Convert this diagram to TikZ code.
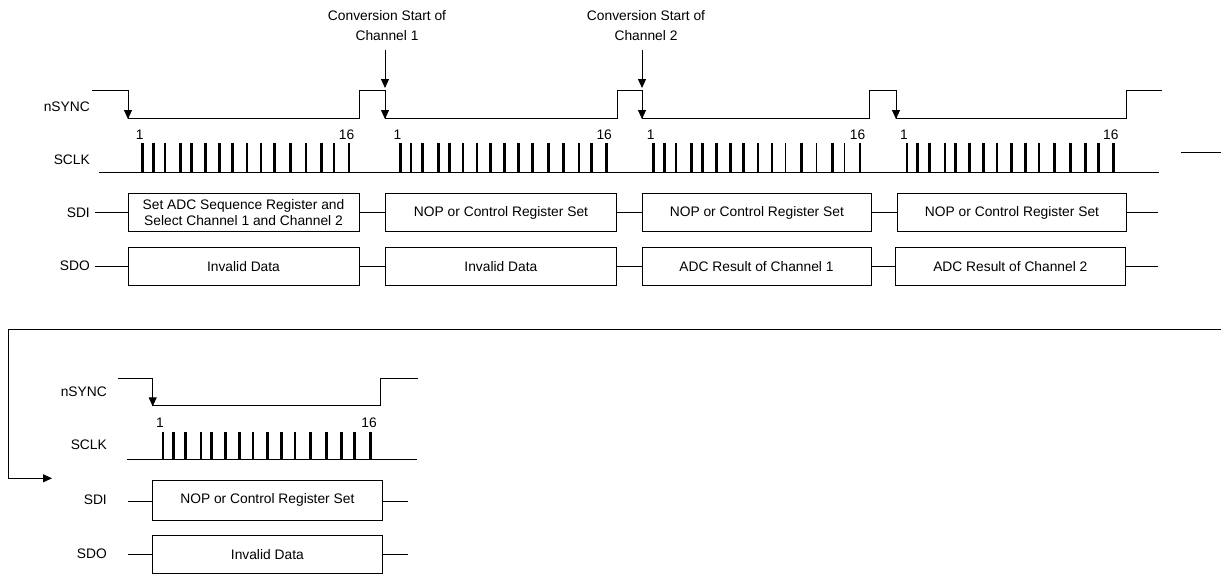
\documentclass[tikz,border=0pt]{standalone}
\usepackage{fontspec}
\setmainfont{Liberation Sans}
\usetikzlibrary{arrows.meta}
\begin{document}
\begin{tikzpicture}[x=1pt,y=-1pt,
  wire/.style={line width=0.9pt},
  pulse/.style={line width=2.7pt},
  thinpulse/.style={line width=1.1pt},
  box/.style={draw,line width=0.9pt,inner sep=0pt,align=center},
  sig/.style={anchor=east,inner sep=0pt},
  num/.style={inner sep=0pt},
  tip/.style={-{Triangle[length=9pt,width=8pt]}},
  every node/.style={font=\fontsize{13.8}{16.5}\selectfont}]
\useasboundingbox (0,0) rectangle (1221,574);

% ---------------- top part ----------------
% signal names
\node[sig] (nsyncA) at (90,107) {nSYNC};
\node[sig] (sclkA) at (90,160) {SCLK};
\node[sig] (sdiA) at (90,213) {SDI};
\node[sig] (sdoA) at (90,266) {SDO};

% conversion start annotations
\node[align=center,inner sep=0pt,font=\fontsize{13.8}{20}\selectfont] (conv1) at (387,26) {Conversion Start of\\Channel 1};
\node[align=center,inner sep=0pt,font=\fontsize{13.8}{20}\selectfont] (conv2) at (646,26) {Conversion Start of\\Channel 2};
\coordinate (c1end) at (385,88);
\coordinate (c2end) at (642,88);
\draw[wire,tip] (385,50) -- (c1end);
\draw[wire,tip] (642,50) -- (c2end);

% nSYNC waveform
\draw[wire] (92,90) -- (128,90) -- (128,118) -- (359,118) -- (359,90) -- (385,90) -- (385,118)
  -- (617,118) -- (617,90) -- (642,90) -- (642,118) -- (869,118) -- (869,90) -- (896,90) -- (896,118)
  -- (1126,118) -- (1126,90) -- (1162,90);
\foreach \x in {128,385,642,896} \draw[wire,tip] (\x,100) -- (\x,119);

% SCLK
\draw[wire] (99,172.5) -- (1159,172.5);
\draw[wire] (1181,152) -- (1221,152);
\foreach \s in {142.7,400.4,653.7,907}{
  \foreach \o in {0,10.5,22.3,38,48.8,62.5,76.5,90,104.2,118.2,147.8,178.7,206.3}
    \draw[pulse] (\s+\o,172.5) -- (\s+\o,143);
  \node[num] at (\s-3,135) {1};
  \node[num] at (\s+203.8,135) {16};
}
\foreach \s in {142.7,400.4,907}{
  \foreach \o in {132,163.2,191.2}
    \draw[pulse] (\s+\o,172.5) -- (\s+\o,143);
}
\foreach \o in {132,163.2,191.2}
  \draw[thinpulse] (653.7+\o,172.5) -- (653.7+\o,143);

% SDI row
\node[box,minimum width=231pt,minimum height=38.4pt] (sdi1) at (243.5,212.5)
  {Set ADC Sequence Register and\\Select Channel 1 and Channel 2};
\node[box,minimum width=231.4pt,minimum height=38.4pt] (sdi2) at (501,212.5) {NOP or Control Register Set};
\node[box,minimum width=229.7pt,minimum height=38.4pt] (sdi3) at (756.85,212.5) {NOP or Control Register Set};
\node[box,minimum width=229.4pt,minimum height=38.4pt] (sdi4) at (1012,212.5) {NOP or Control Register Set};
\coordinate (sdiAin) at (95,212.5);
\coordinate (sdiAout) at (1158,212.5);
\draw[wire] (sdiAin) -- (sdi1.west);
\draw[wire] (sdi1.east) -- (sdi2.west);
\draw[wire] (sdi2.east) -- (sdi3.west);
\draw[wire] (sdi3.east) -- (sdi4.west);
\draw[wire] (sdi4.east) -- (sdiAout);

% SDO row
\node[box,minimum width=231pt,minimum height=38.4pt] (sdo1) at (243.5,266.5) {Invalid Data};
\node[box,minimum width=231.7pt,minimum height=38.4pt] (sdo2) at (500.85,266.5) {Invalid Data};
\node[box,minimum width=229pt,minimum height=38.4pt] (sdo3) at (756.5,266.5) {ADC Result of Channel 1};
\node[box,minimum width=229.3pt,minimum height=38.4pt] (sdo4) at (1010.35,266.5) {ADC Result of Channel 2};
\coordinate (sdoAin) at (95,266.5);
\coordinate (sdoAout) at (1158,266.5);
\draw[wire] (sdoAin) -- (sdo1.west);
\draw[wire] (sdo1.east) -- (sdo2.west);
\draw[wire] (sdo2.east) -- (sdo3.west);
\draw[wire] (sdo3.east) -- (sdo4.west);
\draw[wire] (sdo4.east) -- (sdoAout);

% ---------------- wrap-around connector ----------------
\coordinate (wrapS) at (1221,329);
\coordinate (wrapE) at (52,478.3);
\draw[wire,tip] (wrapS) -- (8.3,329) -- (8.3,478.3) -- (wrapE);

% ---------------- bottom part ----------------
\node[sig] (nsyncB) at (107,391.7) {nSYNC};
\node[sig] (sclkB) at (107,445) {SCLK};
\node[sig] (sdiB) at (107,500) {SDI};
\node[sig] (sdoB) at (107,553.3) {SDO};

\draw[wire] (118.3,378) -- (152.7,378) -- (152.7,405.3) -- (380.7,405.3) -- (380.7,378) -- (418.3,378);
\draw[wire,tip] (152.7,388) -- (152.7,406.3);

\draw[wire] (126.7,459.3) -- (416.7,459.3);
\draw[thinpulse] (163,459.3) -- (163,431.7);
\foreach \o in {10.5,22.3,38,48.8,62.5,76.5,90,104.2,118.2,132,147.8,163.2,178.7,191.2,207.7}
  \draw[pulse] (163+\o,459.3) -- (163+\o,431.7);
\node[num] at (160,422.7) {1};
\node[num] at (369,422.7) {16};

\node[box,minimum width=229.3pt,minimum height=39.7pt] (sdiB1) at (267.35,500.15) {NOP or Control Register Set};
\node[box,minimum width=229.3pt,minimum height=37.6pt] (sdoB1) at (267.35,554.5) {Invalid Data};
\coordinate (sdiBin) at (128.3,501);
\coordinate (sdiBout) at (408.3,501);
\coordinate (sdoBin) at (128.3,554);
\coordinate (sdoBout) at (408.3,554);
\draw[wire] (sdiBin) -- (sdiB1.west |- sdiBin);
\draw[wire] (sdiB1.east |- sdiBout) -- (sdiBout);
\draw[wire] (sdoBin) -- (sdoB1.west |- sdoBin);
\draw[wire] (sdoB1.east |- sdoBout) -- (sdoBout);
\end{tikzpicture}
\end{document}
